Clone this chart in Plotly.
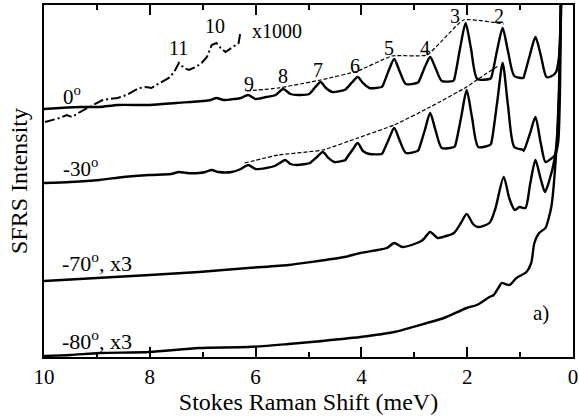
import plotly.graph_objects as go

# Stokes Raman shift (meV) and SFRS intensity (arb. units, traces offset vertically)
shift_0 = [10.0, 9.7, 9.3, 8.95, 8.6, 8.0, 7.5, 7.0, 6.85, 6.74, 6.6, 6.4,
           6.28, 6.14, 6.0, 5.8, 5.62, 5.48, 5.34, 5.2, 4.99,
           4.87, 4.77, 4.67, 4.55, 4.32, 4.29, 4.17, 4.07, 3.97, 3.85, 3.62,
           3.6, 3.48, 3.38, 3.28, 3.16, 2.95, 2.92, 2.80, 2.70, 2.60, 2.48, 2.27,
           2.25, 2.13, 2.03, 1.93, 1.81, 1.58, 1.55, 1.43, 1.33, 1.23, 1.11, 0.94,
           0.93, 0.81, 0.71, 0.61, 0.50, 0.40, 0.32, 0.27, 0.235, 0.215]
sfrs_0 = [248, 249, 250, 250, 252, 252, 254, 256, 257, 259, 257, 258,
          259, 262, 258, 260, 262, 268, 263, 262, 263,
          270, 275, 269, 265, 267, 268, 275, 280, 274, 269, 270,
          271, 287, 298, 286, 273, 274, 275, 290, 300, 289, 276, 276,
          277, 310, 334, 309, 278, 278, 279, 308, 329, 306, 281, 279,
          280, 303, 320, 302, 280, 281, 285, 298, 330, 380]

shift_30 = [10.0, 9.5, 8.95, 8.5, 8.01, 7.6, 7.45, 7.3, 7.07, 6.95, 6.83, 6.7, 6.45,
            6.28, 6.14, 6.0, 5.8, 5.64, 5.54, 5.44, 5.34, 5.22, 4.97,
            4.95, 4.84, 4.73, 4.62, 4.51, 4.30, 4.29, 4.17, 4.07, 3.97, 3.85, 3.62,
            3.6, 3.48, 3.38, 3.28, 3.16, 2.94, 2.92, 2.80, 2.70, 2.60, 2.48, 2.25,
            2.23, 2.11, 2.01, 1.91, 1.79, 1.57, 1.55, 1.43, 1.33, 1.23, 1.11, 0.94,
            0.93, 0.81, 0.71, 0.61, 0.52, 0.42, 0.34, 0.28, 0.245, 0.22]
sfrs_30 = [174, 175, 177, 180, 182, 183, 185, 184, 184, 185, 187, 185, 185,
           188, 192, 188, 189, 191, 194, 197, 193, 192, 194,
           195, 200, 205, 199, 195, 197, 198, 207, 214, 206, 203, 203,
           204, 218, 229, 217, 204, 206, 207, 227, 244, 227, 209, 210,
           211, 241, 267, 240, 210, 212, 213, 256, 294, 252, 210, 207,
           206, 224, 240, 214, 195, 198, 202, 215, 270, 380]

shift_70 = [10.0, 9.0, 8.0, 7.07, 6.14, 5.38, 4.95, 4.32, 4.02, 3.70,
            3.52, 3.38, 3.22, 2.95, 2.84, 2.70, 2.56, 2.46, 2.25, 2.12, 2.01, 1.89, 1.80,
            1.58, 1.47, 1.31, 1.20, 1.10, 1.01, 0.90, 0.81, 0.71, 0.61, 0.53,
            0.44, 0.36, 0.29, 0.25, 0.22]
sfrs_70 = [76, 79, 82, 85, 89, 92, 95, 100, 104, 107,
           109, 114, 110, 114, 117, 125, 119, 120, 124, 134, 143, 133, 130,
           134, 148, 180, 158, 147, 150, 149, 173, 197, 178, 165,
           178, 195, 225, 290, 380]

shift_80 = [10.0, 9.5, 8.95, 8.01, 7.07, 6.14, 5.38, 4.95, 4.02, 3.38, 2.76, 2.44, 2.01, 1.82,
            1.58, 1.50, 1.40, 1.35, 1.28, 1.20, 1.07, 0.88, 0.79, 0.73, 0.64, 0.54, 0.51, 0.41,
            0.33, 0.27, 0.225]
sfrs_80 = [1, 2, 4, 5, 9, 10, 13, 15, 20, 25, 34, 39, 49, 52,
           60, 62, 70, 74, 73, 72, 79, 85, 94, 114, 124, 128, 130, 150,
           195, 260, 380]

# 0 deg spectrum magnified x1000 at large shifts
shift_x1000 = [9.98, 9.70, 9.57, 9.47, 9.32, 9.14, 8.99, 8.89, 8.76, 8.61, 8.44, 8.33, 8.20,
               8.07, 7.97, 7.88, 7.77, 7.64, 7.54, 7.45, 7.35, 7.26, 7.13, 7.02, 6.92, 6.83,
               6.74, 6.66, 6.57, 6.45, 6.32, 6.29]
sfrs_x1000 = [235, 239, 242, 240, 245, 250, 255, 257, 258, 259, 262, 265, 269,
              270, 269, 272, 275, 279, 285, 294, 289, 287, 290, 294, 300, 312,
              314, 309, 305, 309, 314, 324]

# peak envelopes
env_shift_0 = [6.17, 5.57, 4.77, 4.07, 3.42, 2.76, 2.07, 1.31]
env_sfrs_0 = [266, 269, 277, 286, 301, 302, 337, 333]
env_shift_30 = [6.21, 5.57, 4.73, 4.07, 3.38, 2.70, 2.01, 1.82, 1.42]
env_sfrs_30 = [194, 202, 207, 219, 232, 250, 270, 277, 291]

# peak index labels
peak_numbers = ["11", "10", "9", "8", "7", "6", "5", "4", "3", "2"]
peak_label_x = [7.45, 6.77, 6.12, 5.48, 4.82, 4.13, 3.47, 2.80, 2.23, 1.39]
peak_label_y = [309, 331, 273, 281, 287, 291, 309, 309, 341, 341]

FONT = "Liberation Serif, Times New Roman, serif"
BLACK = "#000000"

fig = go.Figure()

for xs, ys in [(shift_0, sfrs_0), (shift_30, sfrs_30), (shift_70, sfrs_70), (shift_80, sfrs_80)]:
    fig.add_trace(go.Scatter(x=xs, y=ys, mode="lines",
                             line=dict(color=BLACK, width=2.4, shape="spline", smoothing=0.7),
                             showlegend=False, hoverinfo="skip"))

fig.add_trace(go.Scatter(x=shift_x1000, y=sfrs_x1000, mode="lines",
                         line=dict(color=BLACK, width=2.0, dash="10px,3px,2px,3px"),
                         showlegend=False, hoverinfo="skip"))

for xs, ys in [(env_shift_0, env_sfrs_0), (env_shift_30, env_sfrs_30)]:
    fig.add_trace(go.Scatter(x=xs, y=ys, mode="lines",
                             line=dict(color=BLACK, width=1.2, dash="4px,2px", shape="spline", smoothing=0.4),
                             showlegend=False, hoverinfo="skip"))

annotations = []
for txt, xv, yv in zip(peak_numbers, peak_label_x, peak_label_y):
    annotations.append(dict(x=xv, y=yv, text=txt, xref="x", yref="y", showarrow=False,
                            xanchor="center", yanchor="middle",
                            font=dict(family=FONT, size=20, color=BLACK)))

side_labels = [
    ("0<sup>o</sup>", 9.68, 262, 21),
    ("-30<sup>o</sup>", 9.68, 190, 21),
    ("-70<sup>o</sup>, x3", 9.70, 95, 22),
    ("-80<sup>o</sup>, x3", 9.70, 17, 22),
    ("x1000", 6.10, 326, 20),
    ("a)", 0.79, 44, 21),
]
for txt, xv, yv, sz in side_labels:
    annotations.append(dict(x=xv, y=yv, text=txt, xref="x", yref="y", showarrow=False,
                            xanchor="left", yanchor="middle",
                            font=dict(family=FONT, size=sz, color=BLACK)))

fig.update_layout(
    width=579, height=418,
    margin=dict(l=44, r=1, t=5, b=61),
    paper_bgcolor="white", plot_bgcolor="white",
    font=dict(family=FONT, color=BLACK),
    annotations=annotations,
    xaxis=dict(
        range=[10, 0], autorange=False,
        tickmode="array", tickvals=[10, 8, 6, 4, 2, 0], ticktext=["10", "8", "6", "4", "2", "0"],
        ticks="inside", ticklen=10, tickwidth=1.5, tickcolor=BLACK,
        ticklabeloverflow="allow",
        minor=dict(tickvals=[9, 7, 5, 3, 1], ticks="inside", ticklen=5, tickwidth=1.5, tickcolor=BLACK),
        showline=True, linewidth=2, linecolor=BLACK, mirror="ticks",
        showgrid=False, zeroline=False,
        tickfont=dict(family=FONT, size=21, color=BLACK),
        title=dict(text="Stokes Raman Shift (meV)", font=dict(family=FONT, size=24, color=BLACK), standoff=2),
    ),
    yaxis=dict(
        range=[0, 352], autorange=False,
        showticklabels=False, ticks="",
        showline=True, linewidth=2, linecolor=BLACK, mirror=True,
        showgrid=False, zeroline=False,
        title=dict(text="SFRS Intensity", font=dict(family=FONT, size=24, color=BLACK), standoff=8),
    ),
)

fig.write_html("out.html")
